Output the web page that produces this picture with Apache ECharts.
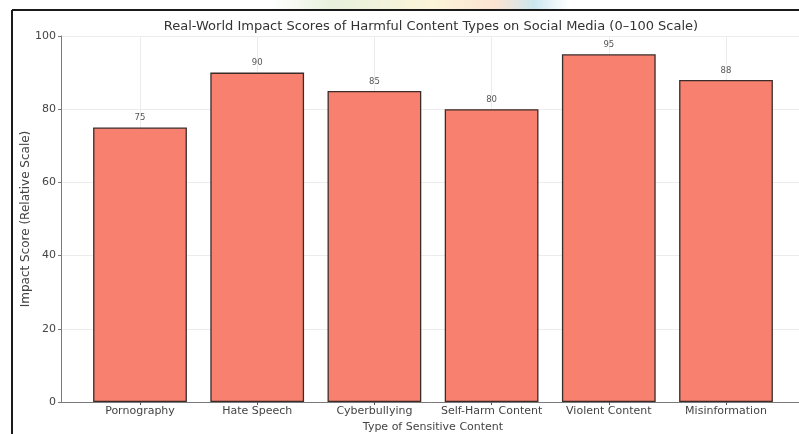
<!DOCTYPE html>
<html>
<head>
<meta charset="utf-8">
<script src="https://cdn.jsdelivr.net/npm/echarts@6/dist/echarts.min.js"></script>
<style>
  html, body { margin: 0; padding: 0; background: #ffffff; }
  #chart { width: 799px; height: 434px; }
</style>
</head>
<body>
<div id="chart"></div>
<script>
// Content categories and their impact scores (0–100)
const categories = ['Pornography', 'Hate Speech', 'Cyberbullying', 'Self-Harm Content', 'Violent Content', 'Misinformation'];
const scores = [75, 90, 85, 80, 95, 88];
const yTicks = [0, 20, 40, 60, 80, 100];

const FONT = 'DejaVu Sans';
const chart = echarts.init(document.getElementById('chart'), null, { renderer: 'canvas' });

chart.setOption({
  animation: false,
  backgroundColor: '#ffffff',
  title: {
    text: 'Real-World Impact Scores of Harmful Content Types on Social Media (0–100 Scale)',
    left: 426, top: 15, textAlign: 'center',
    textStyle: { fontFamily: FONT, fontSize: 13, fontWeight: 'normal', color: '#333333' }
  },
  graphic: [
    // faint strip of the page banner behind the frame
    {
      type: 'rect', silent: true, z: -10,
      shape: { x: 270, y: 0, width: 300, height: 9 },
      style: {
        fill: new echarts.graphic.LinearGradient(0, 0, 1, 0, [
          { offset: 0, color: 'rgba(230,240,220,0)' },
          { offset: 0.2, color: 'rgba(220,235,205,0.7)' },
          { offset: 0.55, color: 'rgba(250,240,200,0.7)' },
          { offset: 0.75, color: 'rgba(250,215,190,0.7)' },
          { offset: 0.88, color: 'rgba(190,225,235,0.8)' },
          { offset: 1, color: 'rgba(200,230,240,0)' }
        ])
      }
    },
    // frame: top and left edges
    { type: 'line', silent: true, shape: { x1: 12, y1: 10, x2: 799, y2: 10 }, style: { stroke: '#1a1a1a', lineWidth: 2 } },
    { type: 'line', silent: true, shape: { x1: 12, y1: 10, x2: 12, y2: 434 }, style: { stroke: '#1a1a1a', lineWidth: 2 } }
  ],
  grid: [
    // axes frame with padding margins either side of the bars
    { left: 61, top: 36, width: 746, bottom: 32, outerBoundsMode: 'none', containLabel: false },
    // bar area: six equal category bands
    { left: 81.4, top: 36, width: 703.2, bottom: 32, outerBoundsMode: 'none', containLabel: false }
  ],
  xAxis: [
    {
      gridIndex: 0, type: 'value', min: 0, max: 1,
      axisLine: { show: true, lineStyle: { color: '#7a7a7a', width: 1 } },
      axisTick: { show: false }, axisLabel: { show: false }, splitLine: { show: false }
    },
    {
      gridIndex: 1, type: 'category', data: categories,
      name: 'Type of Sensitive Content', nameLocation: 'middle', nameGap: 20, nameMoveOverlap: false,
      nameTextStyle: { fontFamily: FONT, fontSize: 11, color: '#444444' },
      axisLine: { show: false },
      axisTick: { show: true, alignWithLabel: true, length: 3, lineStyle: { color: '#555555' } },
      axisLabel: { interval: 0, fontFamily: FONT, fontSize: 11, color: '#444444', margin: 4 },
      splitLine: { show: true, alignWithLabel: true, lineStyle: { color: '#ececec', width: 1 } }
    }
  ],
  yAxis: [
    {
      gridIndex: 0, type: 'value', min: 0, max: 100, interval: 20,
      name: 'Impact Score (Relative Scale)', nameLocation: 'middle', nameGap: 29, nameMoveOverlap: false,
      nameTextStyle: { fontFamily: FONT, fontSize: 12, color: '#444444' },
      axisLine: { show: true, lineStyle: { color: '#7a7a7a', width: 1 } },
      axisTick: { show: true, length: 3, lineStyle: { color: '#7a7a7a' } },
      axisLabel: {
        fontFamily: FONT, fontSize: 11, color: '#444444', margin: 5,
        formatter: v => (yTicks.includes(v) ? String(v) : '')
      },
      splitLine: { show: true, lineStyle: { color: '#ececec', width: 1 } }
    },
    {
      gridIndex: 1, type: 'value', min: 0, max: 100, interval: 20, show: false,
      splitLine: { show: false }
    }
  ],
  series: [{
    type: 'bar',
    xAxisIndex: 1, yAxisIndex: 1,
    data: scores,
    barWidth: '80%',
    itemStyle: { color: '#F8806F', borderColor: '#3b2b29', borderWidth: 1.3 },
    label: {
      show: true, position: 'top', distance: 5,
      fontFamily: FONT, fontSize: 8.5, color: '#555555'
    }
  }]
});
</script>
</body>
</html>
